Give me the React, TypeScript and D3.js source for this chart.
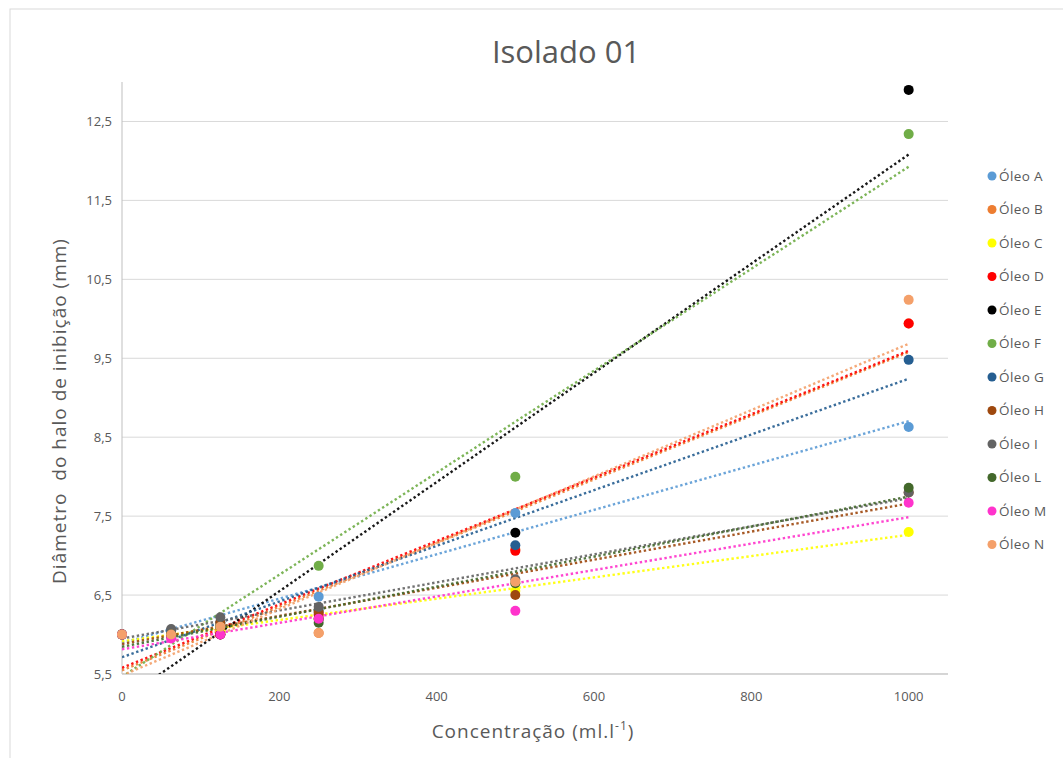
import React from "react";
import * as d3 from "d3";

const xValues = [0, 62.5, 125, 250, 500, 1000];
const seriesNames = ["Óleo A", "Óleo B", "Óleo C", "Óleo D", "Óleo E", "Óleo F", "Óleo G", "Óleo H", "Óleo I", "Óleo L", "Óleo M", "Óleo N"];
const seriesColors = ["#5B9BD5", "#ED7D31", "#FFFF00", "#FF0000", "#000000", "#70AD47", "#255E91", "#9E480E", "#636363", "#43682B", "#FF33CC", "#F4A06A"];
const oleoA = [6.0, 6.05, 6.1, 6.48, 7.54, 8.63];
const oleoB = [6.0, 6.0, 6.05, 6.02, 7.08, 9.94];
const oleoC = [6.0, 6.0, 6.05, 6.2, 6.55, 7.3];
const oleoD = [6.0, 6.0, 6.0, 6.25, 7.06, 9.94];
const oleoE = [6.0, 6.0, 6.0, 6.2, 7.29, 12.9];
const oleoF = [6.0, 6.0, 6.1, 6.87, 8.0, 12.34];
const oleoG = [6.0, 6.05, 6.15, 6.3, 7.13, 9.48];
const oleoH = [6.0, 6.0, 6.15, 6.28, 6.5, 7.8];
const oleoI = [6.0, 6.07, 6.22, 6.35, 6.7, 7.8];
const oleoL = [6.0, 6.0, 6.1, 6.15, 6.65, 7.86];
const oleoM = [6.0, 5.95, 6.0, 6.2, 6.3, 7.67];
const oleoN = [6.0, 6.0, 6.1, 6.02, 6.67, 10.24];
const seriesValues = [oleoA, oleoB, oleoC, oleoD, oleoE, oleoF, oleoG, oleoH, oleoI, oleoL, oleoM, oleoN];
const xTicks = [0, 200, 400, 600, 800, 1000];
const yTicks = [5.5, 6.5, 7.5, 8.5, 9.5, 10.5, 11.5, 12.5];

function linreg(xs: number[], ys: number[]) {
  const mx = d3.mean(xs) as number;
  const my = d3.mean(ys) as number;
  const sxy = d3.sum(xs, (x, i) => (x - mx) * (ys[i] - my));
  const sxx = d3.sum(xs, (x) => (x - mx) * (x - mx));
  const slope = sxy / sxx;
  return { slope, intercept: my - slope * mx };
}

export default function App() {
  const W = 1063, H = 758;
  const left = 122, right = 948, top = 82, bottom = 674;
  const x = d3.scaleLinear().domain([0, 1050]).range([left, right]);
  const y = d3.scaleLinear().domain([5.5, 13]).range([bottom, top]);
  const fmt = (v: number) => String(v).replace(".", ",");
  const font = "'Open Sans', 'Noto Sans', sans-serif";
  const textCol = "#595959";

  const clipId = "plotclip";
  return (
    <svg width={W} height={H} style={{ position: "absolute", left: 0, top: 0, background: "#fff" }} fontFamily={font}>
      <defs>
        <clipPath id={clipId}>
          <rect x={left} y={top} width={right - left} height={bottom - top} />
        </clipPath>
      </defs>
      <rect x={10} y={9} width={W + 10} height={H + 10} fill="#fff" stroke="#D9D9D9" strokeWidth={1} />
      <text x={566} y={63} textAnchor="middle" fontSize={31} fill={textCol}>Isolado 01</text>

      {yTicks.map((t) => (
        <g key={"y" + t}>
          <line x1={left} x2={right} y1={y(t)} y2={y(t)} stroke="#D9D9D9" strokeWidth={1} />
          <text x={112} y={y(t) + 4.5} textAnchor="end" fontSize={13} fill={textCol}>{fmt(t)}</text>
        </g>
      ))}
      <line x1={left} x2={left} y1={top} y2={bottom} stroke="#BFBFBF" strokeWidth={1} />
      <line x1={left} x2={right} y1={bottom} y2={bottom} stroke="#BFBFBF" strokeWidth={1} />
      {xTicks.map((t) => (
        <text key={"x" + t} x={x(t)} y={701} textAnchor="middle" fontSize={13} fill={textCol}>{t}</text>
      ))}

      <g clipPath={`url(#${clipId})`}>
        {seriesValues.map((vals, i) => {
          const r = linreg(xValues, vals);
          return (
            <line key={"t" + i} x1={x(0)} y1={y(r.intercept)} x2={x(1000)} y2={y(r.intercept + r.slope * 1000)}
              stroke={seriesColors[i]} strokeWidth={2.4} strokeDasharray="2.4 2.6" opacity={0.9} />
          );
        })}
      </g>
      {seriesValues.map((vals, i) => (
        <g key={"p" + i}>
          {vals.map((v, j) => (
            <circle key={j} cx={x(xValues[j])} cy={y(v)} r={5} fill={seriesColors[i]} />
          ))}
        </g>
      ))}

      {seriesNames.map((n, i) => (
        <g key={"l" + i} transform={`translate(0, ${176 + i * 33.5})`}>
          <circle cx={992} cy={0} r={4.5} fill={seriesColors[i]} />
          <text x={999} y={4.5} fontSize={13.5} letterSpacing={0.4} fill={textCol}>{n}</text>
        </g>
      ))}

      <text transform={`translate(66, 411) rotate(-90)`} textAnchor="middle" fontSize={19} letterSpacing={1} fill={textCol} xmlSpace="preserve">Diâmetro  do halo de inibição (mm)</text>
      <text x={533} y={738} textAnchor="middle" fontSize={19} letterSpacing={1} fill={textCol}>
        Concentração (ml.l<tspan dy={-8} fontSize={12}>-1</tspan><tspan dy={8}>)</tspan>
      </text>
    </svg>
  );
}
